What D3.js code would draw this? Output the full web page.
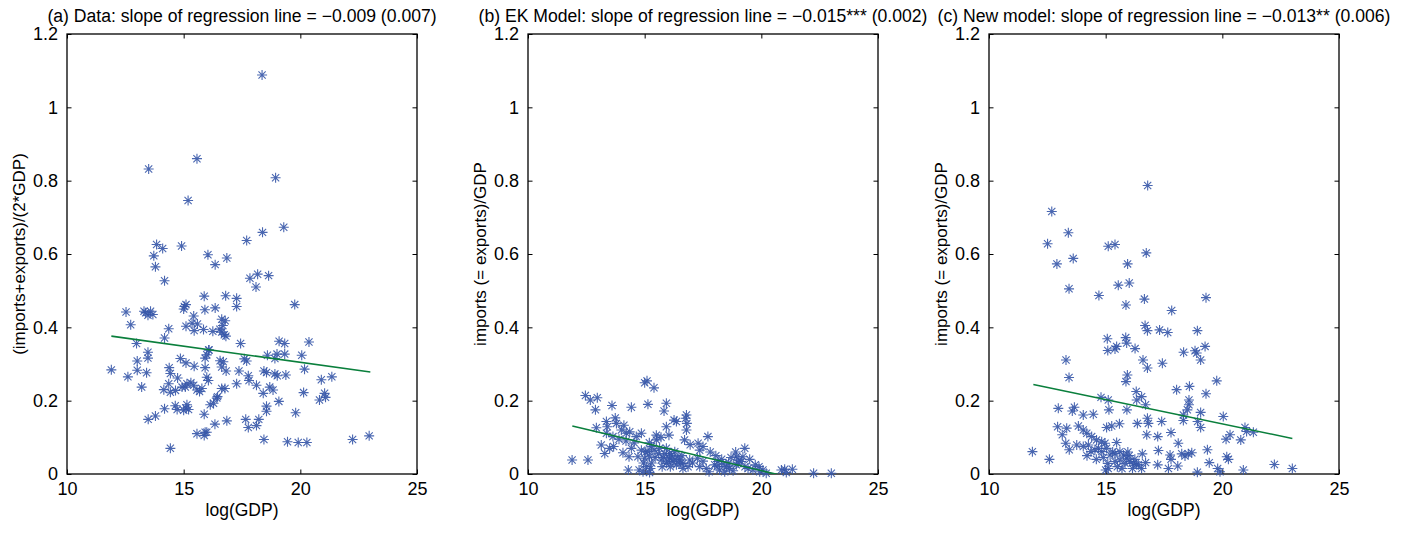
<!DOCTYPE html>
<html>
<head>
<meta charset="utf-8">
<script src="https://cdn.jsdelivr.net/npm/d3@7"></script>
<style>
  body { margin: 0; background: #fff; }
  text { font-family: "Liberation Sans", Arial, Helvetica, sans-serif; fill: #000; }
</style>
</head>
<body>
<script>
// panel titles and axis labels
var titles = [
  '(a) Data: slope of regression line = \u22120.009 (0.007)',
  '(b) EK Model: slope of regression line = \u22120.015*** (0.002)',
  '(c) New model: slope of regression line = \u22120.013** (0.006)'
];
var yLabels = ['(imports+exports)/(2*GDP)', 'imports (= exports)/GDP', 'imports (= exports)/GDP'];
var xLabel = 'log(GDP)';
var xTicks = [10, 15, 20, 25];
var yTicks = [0, 0.2, 0.4, 0.6, 0.8, 1, 1.2];

// regression line ends [x0, y0, x1, y1]
var regLines = [
  [11.9, 0.376, 23.0, 0.278],
  [11.9, 0.131, 23.0, -0.036],
  [11.9, 0.244, 23.0, 0.097]
];

// (a) data: [log(GDP), share]
var dataA = [
  [18.36,1.088],[15.57,0.86],[13.5,0.832],[18.94,0.808],[15.19,0.746],
  [19.29,0.673],[18.38,0.659],[17.70,0.637],[13.84,0.626],[14.10,0.615],[14.91,0.622],[13.72,0.595],[13.79,0.565],
  [16.04,0.598],[16.35,0.571],[16.85,0.589],[14.18,0.527],[17.84,0.534],[18.17,0.545],[18.10,0.510],[18.64,0.541],[19.76,0.462],
  [12.53,0.442],[12.73,0.407],[13.37,0.440],[13.47,0.433],[13.68,0.435],[13.58,0.444],[13.30,0.444],
  [15.88,0.485],[16.80,0.486],[17.27,0.479],[17.27,0.457],[15.03,0.457],[15.10,0.462],[15.00,0.450],[15.91,0.448],
  [16.35,0.453],[15.43,0.431],[15.10,0.403],[15.36,0.411],[15.45,0.391],[15.59,0.409],[15.85,0.394],[16.25,0.389],
  [16.63,0.422],[16.78,0.418],[16.68,0.405],[16.63,0.387],[16.74,0.380],[16.81,0.376],[16.55,0.395],
  [14.18,0.371],[14.36,0.396],[12.98,0.356],[16.07,0.338],[17.44,0.356],[19.09,0.362],[19.33,0.356],[20.37,0.360],
  [19.00,0.327],[19.33,0.327],[20.06,0.324],[18.59,0.324],[18.91,0.315],[13.47,0.332],[13.47,0.316],[13.01,0.308],
  [11.90,0.284],[12.61,0.265],[13.01,0.283],[13.41,0.276],[13.20,0.237],
  [14.38,0.290],[14.43,0.274],[14.36,0.246],[14.15,0.230],[14.86,0.315],[15.10,0.303],[15.45,0.294],[14.93,0.237],
  [15.07,0.237],[15.14,0.246],[15.31,0.249],[15.43,0.242],[15.57,0.229],[15.68,0.225],[15.78,0.233],[14.74,0.262],
  [14.43,0.223],[14.65,0.228],
  [15.92,0.316],[15.99,0.325],[16.09,0.338],[15.92,0.290],[15.99,0.264],[16.06,0.255],[16.56,0.309],[16.70,0.306],
  [16.63,0.292],[16.82,0.281],[16.63,0.233],[16.77,0.233],[16.42,0.207],[16.28,0.193],[16.14,0.189],[16.45,0.211],
  [16.34,0.136],[16.85,0.145],[15.88,0.163],[15.57,0.110],[15.92,0.114],[15.88,0.105],[15.99,0.114],[14.43,0.070],
  [13.48,0.149],[13.79,0.158],[14.18,0.178],[14.64,0.186],[14.72,0.176],[15.14,0.189],[15.10,0.180],[15.21,0.176],[15.00,0.174],
  [17.27,0.246],[17.37,0.281],[17.70,0.308],[17.60,0.314],[17.77,0.268],[17.80,0.255],[18.12,0.242],[18.41,0.220],
  [18.44,0.281],[18.55,0.277],[18.69,0.237],[18.83,0.229],[18.91,0.273],[19.01,0.268],[19.08,0.198],[18.55,0.185],
  [18.55,0.171],[17.66,0.149],[17.77,0.127],[18.12,0.132],[18.22,0.149],[18.44,0.094],[19.38,0.270],[19.80,0.167],
  [19.45,0.088],[19.91,0.086],[20.28,0.086],[20.14,0.222],[20.18,0.286],[20.90,0.257],[21.35,0.265],[20.82,0.202],
  [21.04,0.220],[21.08,0.209],[22.24,0.094],[22.95,0.104]
];

// (b) EK model
var dataB = [
  [12.46,0.214],[12.67,0.202],[12.97,0.208],[12.89,0.175],[13.60,0.187],[14.43,0.182],[15.0,0.249],[15.1,0.254],
  [15.4,0.235],[15.14,0.19],[15.93,0.193],[15.83,0.172],[15.93,0.129],[16.04,0.106],[16.26,0.147],[16.36,0.143],
  [16.79,0.161],[16.76,0.152],[16.81,0.138],[16.79,0.12],[16.71,0.093],[13.74,0.153],[13.36,0.143],[13.4,0.129],
  [13.79,0.138],[14.11,0.133],[14.0,0.12],[12.93,0.126],[13.14,0.079],[13.29,0.056],[13.67,0.075],[13.5,0.07],
  [13.36,0.111],[13.64,0.102],[14.21,0.111],[14.36,0.115],[14.64,0.102],[14.86,0.111],[14.07,0.058],[14.33,0.047],
  [14.43,0.07],[11.89,0.038],[12.57,0.038],[14.3,0.011],[14.76,0.011],[14.93,0.006],[15.21,0.004],[15.07,0.02],
  [14.71,0.047],[15.0,0.043],[15.21,0.047],[15.14,0.061],[14.86,0.065],[15.29,0.075],[15.5,0.106],[15.5,0.093],
  [15.64,0.07],[15.86,0.055],[15.71,0.038],[15.93,0.029],[16.07,0.043],[16.21,0.034],[16.36,0.025],[16.5,0.038],
  [16.64,0.029],[16.07,0.056],[15.93,0.07],[16.29,0.061],[16.43,0.047],[16.86,0.02],[16.64,0.015],[16.93,0.038],
  [17.29,0.084],[17.36,0.065],[17.26,0.043],[17.36,0.02],[17.71,0.102],[17.81,0.06],[17.64,0.015],[17.76,0.006],
  [18.0,0.025],[18.14,0.034],[18.36,0.027],[18.5,0.02],[18.21,0.011],[18.43,0.006],[18.64,0.015],[18.79,0.009],
  [18.93,0.025],[18.93,0.047],[19.04,0.038],[19.14,0.034],[19.29,0.07],[19.21,0.047],[19.43,0.015],[19.64,0.011],
  [19.74,0.025],[19.93,0.006],[20.07,0.011],[20.21,0.002],[20.86,0.011],[21.0,0.013],[21.33,0.013],[21.07,0.004],
  [22.24,0.002],[23.0,0.002],
  [15.3,0.03],[15.45,0.045],[15.6,0.055],[15.8,0.045],[16.0,0.035],[16.15,0.05],[16.3,0.04],[16.55,0.03],
  [15.25,0.015],[15.75,0.02],[16.1,0.02],[14.95,0.03],[15.05,0.06],[15.4,0.065],[16.6,0.05],[17.05,0.03],
  [17.5,0.035],[18.1,0.02],[18.3,0.04],[18.6,0.03],[18.7,0.045],[19.0,0.03],[19.3,0.02],[19.5,0.04],[19.9,0.02],
  [14.2,0.09],[14.55,0.085],[13.9,0.095],[16.95,0.08],[17.5,0.075],[18.05,0.05],[18.9,0.06],[15.7,0.1],[15.2,0.085]
];

// (c) new model
var dataC = [
  [16.8,0.787],[12.69,0.716],[12.51,0.628],[13.4,0.658],[12.91,0.573],[13.61,0.588],[13.43,0.505],[15.11,0.621],
  [15.4,0.626],[15.94,0.573],[16.74,0.603],[15.54,0.515],[16.01,0.521],[15.87,0.461],[16.66,0.477],[14.71,0.487],
  [17.83,0.446],[19.3,0.481],[16.69,0.405],[16.79,0.391],[17.31,0.393],[17.66,0.386],[18.93,0.391],[15.07,0.369],
  [15.86,0.372],[15.9,0.357],[15.47,0.348],[15.4,0.341],[15.09,0.337],[16.26,0.342],[18.34,0.332],[18.83,0.336],
  [18.9,0.33],[19.26,0.348],[19.07,0.311],[13.3,0.311],[13.43,0.263],[16.6,0.311],[16.79,0.289],[17.43,0.302],
  [15.93,0.27],[15.87,0.252],[19.76,0.254],[18.04,0.23],[18.59,0.239],[19.3,0.219],[18.57,0.202],[18.57,0.189],
  [18.5,0.175],[18.33,0.161],[16.31,0.225],[16.54,0.211],[16.33,0.202],[16.71,0.189],[14.8,0.209],[15.11,0.202],
  [15.14,0.175],[15.91,0.175],[19.07,0.168],[20.04,0.157],[12.97,0.179],[13.66,0.182],[13.57,0.172],[14.04,0.161],
  [14.47,0.163],[16.79,0.152],[16.83,0.138],[17.4,0.143],[16.36,0.138],[15.59,0.137],[15.26,0.131],[15.04,0.127],
  [18.33,0.146],[18.94,0.143],[19.07,0.127],[20.97,0.127],[21.04,0.116],[21.33,0.114],[20.33,0.107],[20.16,0.095],
  [20.79,0.093],[17.8,0.113],[16.76,0.107],[17.23,0.102],[12.94,0.129],[13.33,0.125],[13.83,0.131],[14.04,0.12],
  [14.19,0.111],[13.14,0.107],[13.29,0.084],[13.44,0.066],[13.76,0.079],[14.04,0.075],[14.26,0.079],[14.37,0.061],
  [14.54,0.066],[14.69,0.07],[14.83,0.061],[14.97,0.084],[15.04,0.07],[14.4,0.102],[14.61,0.093],[14.83,0.088],
  [15.47,0.086],[15.19,0.052],[15.4,0.056],[15.61,0.061],[15.76,0.052],[15.9,0.043],[16.04,0.034],[16.19,0.029],
  [16.33,0.025],[15.83,0.029],[15.61,0.038],[15.4,0.034],[15.09,0.029],[15.11,0.015],[15.0,0.011],[16.57,0.055],
  [16.71,0.031],[16.54,0.015],[16.4,0.025],[17.26,0.064],[17.23,0.025],[17.69,0.015],[17.76,0.052],[17.8,0.04],
  [18.11,0.084],[18.09,0.022],[18.26,0.055],[18.4,0.049],[18.54,0.055],[18.69,0.058],[18.93,0.005],[19.36,0.066],
  [19.44,0.031],[19.8,0.015],[19.9,0.006],[20.19,0.047],[20.26,0.04],[20.9,0.011],[22.23,0.026],[23.0,0.015],
  [11.86,0.061],[12.59,0.04],
  [14.2,0.05],[14.9,0.045],[15.3,0.06],[15.5,0.02],[15.7,0.015],[16.0,0.05],[16.15,0.015],[14.6,0.04],[15.95,0.06],[16.25,0.04]
];

var panels = [dataA, dataB, dataC];

var W = 1405, H = 541;
var lefts = [67, 528, 989];
var plotTop = 34, pw = 350, ph = 440;
var tickLen = 4.5;

var svg = d3.select('body').append('svg')
  .attr('width', W)
  .attr('height', H);

// MATLAB-style '*' marker: plus + cross
var r = 5, rd = 3.6;
var starPath = 'M' + (-r) + ',0H' + r + 'M0,' + (-r) + 'V' + r +
  'M' + (-rd) + ',' + (-rd) + 'L' + rd + ',' + rd +
  'M' + (-rd) + ',' + rd + 'L' + rd + ',' + (-rd);

panels.forEach(function(data, i) {
  var x = d3.scaleLinear().domain([10, 25]).range([0, pw]);
  var y = d3.scaleLinear().domain([0, 1.2]).range([ph, 0]);

  var g = svg.append('g')
    .attr('transform', 'translate(' + lefts[i] + ',' + plotTop + ')');

  g.append('clipPath')
    .attr('id', 'clip' + i)
    .append('rect')
    .attr('width', pw)
    .attr('height', ph);

  // axes with inward ticks on all sides
  var axB = d3.axisBottom(x).tickValues(xTicks).tickSizeInner(-tickLen).tickSizeOuter(0).tickPadding(8);
  var axT = d3.axisTop(x).tickValues(xTicks).tickSizeInner(-tickLen).tickSizeOuter(0).tickFormat('');
  var axL = d3.axisLeft(y).tickValues(yTicks).tickSizeInner(-tickLen).tickSizeOuter(0).tickPadding(9).tickFormat(d3.format('~g'));
  var axR = d3.axisRight(y).tickValues(yTicks).tickSizeInner(-tickLen).tickSizeOuter(0).tickFormat('');

  g.append('g').attr('transform', 'translate(0,' + ph + ')').call(axB);
  g.append('g').call(axT);
  g.append('g').call(axL);
  g.append('g').attr('transform', 'translate(' + pw + ',0)').call(axR);

  g.selectAll('.domain').remove();
  g.selectAll('.tick line').attr('stroke', '#000').attr('stroke-width', 1);
  g.selectAll('.tick text')
    .style('font-family', '"Liberation Sans", Arial, sans-serif')
    .style('font-size', '18px')
    .attr('fill', '#000');

  g.append('rect')
    .attr('width', pw)
    .attr('height', ph)
    .attr('fill', 'none')
    .attr('stroke', '#000')
    .attr('stroke-width', 1.3);

  // points
  g.append('g').selectAll('path')
    .data(data)
    .enter()
    .append('path')
    .attr('d', starPath)
    .attr('transform', function(d) { return 'translate(' + x(d[0]) + ',' + y(d[1]) + ')'; })
    .attr('fill', 'none')
    .attr('stroke', '#3656a8')
    .attr('stroke-width', 1.1)
    .attr('opacity', 0.9);

  // regression line
  var rl = regLines[i];
  g.append('line')
    .attr('clip-path', 'url(#clip' + i + ')')
    .attr('x1', x(rl[0])).attr('y1', y(rl[1]))
    .attr('x2', x(rl[2])).attr('y2', y(rl[3]))
    .attr('stroke', '#0a7f3c')
    .attr('stroke-width', 1.6);

  // texts
  g.append('text')
    .attr('x', pw / 2)
    .attr('y', -12)
    .attr('text-anchor', 'middle')
    .style('font-size', '17.6px')
    .text(titles[i]);

  g.append('text')
    .attr('x', pw / 2)
    .attr('y', ph + 42)
    .attr('text-anchor', 'middle')
    .style('font-size', '17.5px')
    .text(xLabel);

  g.append('text')
    .attr('transform', 'translate(-42,' + (ph / 2) + ') rotate(-90)')
    .attr('text-anchor', 'middle')
    .style('font-size', '17px')
    .text(yLabels[i]);
});
</script>
</body>
</html>
